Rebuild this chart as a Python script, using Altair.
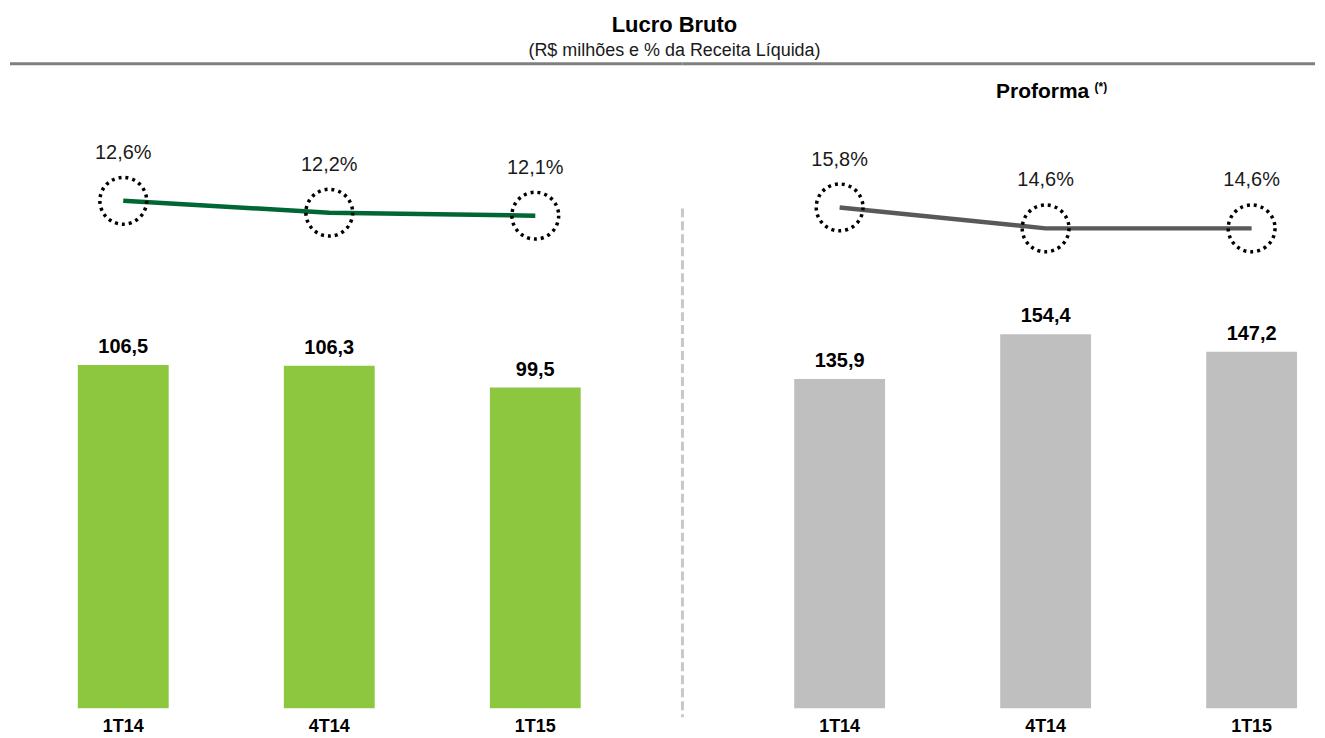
import altair as alt
import pandas as pd

FONT = "Liberation Sans"

periodos = ["1T14", "4T14", "1T15"]
lucro = [106.5, 106.3, 99.5]
margem = [12.6, 12.2, 12.1]
lucro_pf = [135.9, 154.4, 147.2]
margem_pf = [15.8, 14.6, 14.6]

titulo = "Lucro Bruto"
subtitulo = "(R$ milhões e % da Receita Líquida)"
proforma = "Proforma"
nota = "(*)"

H = 646


def make_df(vals, pcts):
    df = pd.DataFrame({"periodo": periodos, "lucro": vals, "margem": pcts})
    df["lucro_lbl"] = df["lucro"].map(lambda v: f"{v:.1f}".replace(".", ","))
    df["margem_lbl"] = df["margem"].map(lambda v: f"{v:.1f}%".replace(".", ","))
    return df


def panel(df, width, bar_color, line_color, bar_dom, line_dom, pad_outer, align, extras):
    x = alt.X(
        "periodo:N",
        sort=periodos,
        scale=alt.Scale(paddingInner=0.559, paddingOuter=pad_outer, align=align),
        axis=alt.Axis(
            title=None, labelAngle=0, domain=False, ticks=False, tickSize=0,
            labelFont=FONT, labelFontSize=18, labelFontWeight="bold",
            labelColor="#000000", labelPadding=9,
        ),
    )
    ybar = alt.Y("lucro:Q", scale=alt.Scale(domain=bar_dom, nice=False, zero=True), axis=None)
    yline = alt.Y("margem:Q", scale=alt.Scale(domain=line_dom, nice=False, zero=False), axis=None)
    base = alt.Chart(df).encode(x=x)
    bars = base.mark_bar(color=bar_color).encode(y=ybar)
    bar_txt = base.mark_text(
        baseline="alphabetic", dy=-12, font=FONT, fontSize=20, fontWeight="bold", color="#000000"
    ).encode(y=ybar, text="lucro_lbl:N")
    line = base.mark_line(color=line_color, strokeWidth=4.5).encode(y=yline)
    circ = base.mark_point(
        shape="circle", size=2200, filled=False, stroke="#000000", strokeWidth=3.5,
        strokeDash=[3, 4], opacity=1,
    ).encode(y=yline)
    pct_txt = base.mark_text(
        baseline="alphabetic", dy=-42, font=FONT, fontSize=20, color="#1a1a1a"
    ).encode(y=yline, text="margem_lbl:N")
    return (
        alt.layer(bars, bar_txt, line, circ, pct_txt, *extras)
        .resolve_scale(y="independent")
        .properties(width=width, height=H)
    )


one = pd.DataFrame({"k": [0]})

WL = 675
WR = 629

top_rule_l = alt.Chart(one).mark_rule(color="#7f7f7f", strokeWidth=3).encode(
    x=alt.value(1), x2=alt.value(WL), y=alt.value(0)
)
top_rule_r = alt.Chart(one).mark_rule(color="#7f7f7f", strokeWidth=3).encode(
    x=alt.value(0), x2=alt.value(634), y=alt.value(0)
)
sep = alt.Chart(one).mark_rule(color="#c8c8c8", strokeWidth=3, strokeDash=[9, 4]).encode(
    x=alt.value(0), y=alt.value(145), y2=alt.value(655)
)
pf_txt = alt.Chart(one).mark_text(
    font=FONT, fontSize=21, fontWeight="bold", color="#000000", baseline="alphabetic", align="center"
).encode(x=alt.value(361), y=alt.value(34), text=alt.value(proforma))
pf_note = alt.Chart(one).mark_text(
    font=FONT, fontSize=12, fontWeight="bold", color="#000000", baseline="top", align="left"
).encode(x=alt.value(413), y=alt.value(18), text=alt.value(nota))

left = panel(make_df(lucro, margem), WL, "#8dc63f", "#006633",
             [0, 200.0], [-4.43, 17.2], 0.414, 0.4035, [top_rule_l])
right = panel(make_df(lucro_pf, margem_pf), WR, "#bfbfbf", "#595959",
              [0, 266.1], [-12.88, 24.03], 0.3027, 0.896, [top_rule_r, sep, pf_txt, pf_note])

chart = (
    alt.hconcat(left, right, spacing=0, bounds="flush")
    .properties(
        title=alt.TitleParams(
            text=titulo, subtitle=subtitulo, anchor="middle", font=FONT, fontSize=22,
            fontWeight="bold", color="#000000", subtitleFont=FONT, subtitleFontSize=18,
            subtitleColor="#1a1a1a", subtitlePadding=5, offset=1, dx=12,
        ),
        padding={"left": 0, "top": 5, "right": 0, "bottom": 0},
    )
    .configure_view(stroke=None)
    .configure_concat(spacing=0)
)

chart.save("out.html", embed_options={"renderer": "svg", "actions": False})
